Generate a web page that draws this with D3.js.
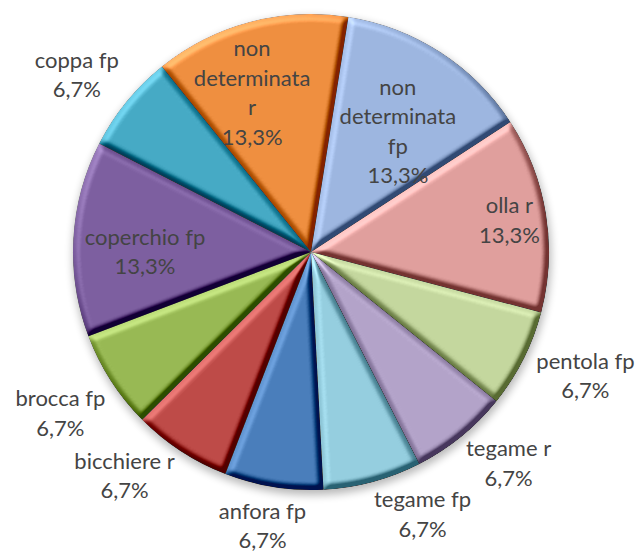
<!DOCTYPE html>
<html>
<head>
<meta charset="utf-8">
<script src="https://cdn.jsdelivr.net/npm/d3@7"></script>
<style>
  html, body { margin: 0; padding: 0; background: #ffffff; }
  svg { display: block; }
</style>
</head>
<body>
<svg id="chart" width="637" height="552"></svg>
<script>
// ---- data (in series order) ----
const categories = ["anfora fp", "bicchiere r", "brocca fp", "coperchio fp", "coppa fp",
  "non determinata r", "non determinata fp", "olla r", "pentola fp", "tegame r", "tegame fp"];
const values = [6.7, 6.7, 6.7, 13.3, 6.7, 13.3, 13.3, 13.3, 6.7, 6.7, 6.7];
const colors = ["#4a7ebb", "#be4b48", "#98b954", "#7d5fa0", "#46aac5", "#ef8f40",
  "#9db6e0", "#e09f9d", "#c4d79e", "#b3a3c9", "#95cedf"];

// ---- label layout (radius in px from centre, angle nudge in degrees) ----
const labelRadius = [278, 291, 298, 166, 294, 170, 149, 201, 301, 289, 285];
const labelNudge = [1, 6.7, 0, -3, -2, -5.4, 2.7, 0, -2.5, -4, -8];

const W = 637, H = 552;
const cx = 311, cy = 252, R = 238;
const startDeg = 177;
const fontSize = 22, lineH = 29.5, wrapWidth = 122;

const svg = d3.select("#chart");
const defs = svg.append("defs");

// bevel filter
const f = defs.append("filter").attr("id", "bevel")
  .attr("x", "-5%").attr("y", "-5%").attr("width", "110%").attr("height", "110%")
  .attr("color-interpolation-filters", "sRGB");
f.append("feGaussianBlur").attr("in", "SourceAlpha").attr("stdDeviation", 3).attr("result", "blur");
const dl = f.append("feDiffuseLighting").attr("in", "blur").attr("surfaceScale", 9)
  .attr("diffuseConstant", 0.72).attr("lighting-color", "#ffffff").attr("result", "diff");
dl.append("feDistantLight").attr("azimuth", 235).attr("elevation", 44);
f.append("feComposite").attr("in", "SourceGraphic").attr("in2", "diff")
  .attr("operator", "arithmetic").attr("k1", 0).attr("k2", 1).attr("k3", 0.85).attr("k4", -0.425)
  .attr("result", "lit");
f.append("feComposite").attr("in", "lit").attr("in2", "SourceAlpha").attr("operator", "in");

// shadow filter
const sf = defs.append("filter").attr("id", "shadow")
  .attr("x", "-20%").attr("y", "-20%").attr("width", "140%").attr("height", "140%");
sf.append("feGaussianBlur").attr("stdDeviation", 4);

const g = svg.append("g").attr("transform", `translate(${cx},${cy})`);

const toRad = d => d * Math.PI / 180;
const pie = d3.pie().sort(null).value(d => d)
  .startAngle(toRad(startDeg)).endAngle(toRad(startDeg) + 2 * Math.PI);
const arcs = pie(values);
const arc = d3.arc().innerRadius(0).outerRadius(R);

// soft shadow beneath the pie
g.append("path")
  .attr("d", d3.arc().innerRadius(0).outerRadius(R + 1)({startAngle: 0, endAngle: 2 * Math.PI}))
  .attr("transform", "translate(1,4)")
  .attr("fill", "#000").attr("opacity", 0.28).attr("filter", "url(#shadow)");

g.selectAll("path.slice").data(arcs).enter().append("path")
  .attr("class", "slice")
  .attr("d", arc)
  .attr("fill", (d, i) => colors[i])
  .attr("filter", "url(#bevel)");

// labels
const fmt = d3.formatLocale({decimal: ",", thousands: ".", grouping: [3], currency: ["", "€"]}).format(".1f");

const measurer = svg.append("text").attr("font-family", "Lato, 'Open Sans', sans-serif")
  .attr("font-size", fontSize).attr("visibility", "hidden");
function textWidth(s) { measurer.text(s); return measurer.node().getComputedTextLength(); }
function wrap(s) {
  const words = s.split(" ");
  const lines = [];
  let cur = "";
  words.forEach(w => {
    const t = cur ? cur + " " + w : w;
    if (cur && textWidth(t) > wrapWidth) { lines.push(cur); cur = w; } else cur = t;
  });
  if (cur) lines.push(cur);
  return lines;
}

const labels = svg.append("g")
  .attr("font-family", "Lato, 'Open Sans', sans-serif")
  .attr("font-size", fontSize)
  .attr("fill", "#444444")
  .attr("text-anchor", "middle");

arcs.forEach((d, i) => {
  const mid = (d.startAngle + d.endAngle) / 2 + toRad(labelNudge[i]);
  const r = labelRadius[i];
  const x = cx + r * Math.sin(mid);
  const y = cy - r * Math.cos(mid);
  const lines = wrap(categories[i]).concat([fmt(values[i]) + "%"]);
  const t = labels.append("text").attr("x", x).attr("y", y);
  lines.forEach((ln, k) => {
    t.append("tspan").attr("x", x)
      .attr("y", y + (k - (lines.length - 1) / 2) * lineH)
      .attr("dy", "0.36em")
      .text(ln);
  });
});
measurer.remove();
</script>
</body>
</html>
